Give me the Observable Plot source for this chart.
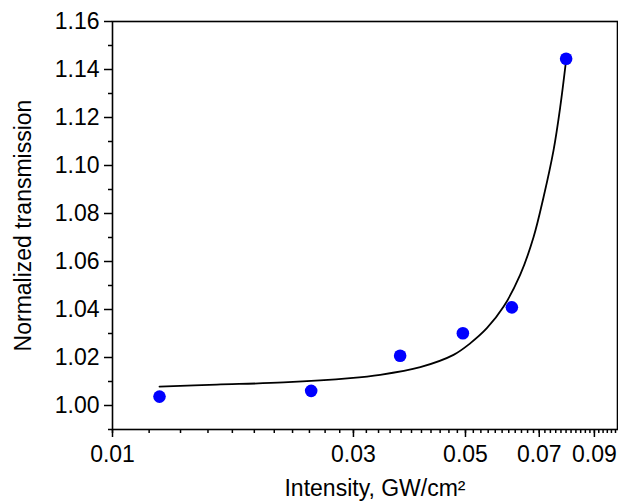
<!DOCTYPE html>
<html>
<head>
<meta charset="utf-8">
<script src="https://cdn.jsdelivr.net/npm/d3@7"></script>
<script src="https://cdn.jsdelivr.net/npm/@observablehq/plot@0.6"></script>
<style>
  html, body { margin: 0; padding: 0; background: #fff; }
</style>
</head>
<body>
<div id="chart"></div>
<script>
const xLabel = "Intensity, GW/cm²";
const yLabel = "Normalized transmission";

// measured points
const intensity    = [0.01239, 0.02474, 0.03712, 0.04941, 0.06178, 0.07912];
const transmission = [1.0037, 1.0061, 1.0207, 1.0301, 1.0409, 1.1445];

// fitted curve
const fitIntensity    = [0.01239, 0.01609, 0.02181, 0.02956, 0.03389, 0.04069, 0.04735, 0.05108, 0.05512, 0.05946, 0.06418, 0.06821, 0.07139, 0.07470, 0.07701, 0.07912];
const fitTransmission = [1.0079, 1.0087, 1.0096, 1.0114, 1.0128, 1.0160, 1.0211, 1.0259, 1.0322, 1.0411, 1.0545, 1.0702, 1.0869, 1.1063, 1.1243, 1.1440];

// ticks
const xMajorTicks = [0.01, 0.03, 0.05, 0.07, 0.09];
const xTickLabels = ["0.01", "0.03", "0.05", "0.07", "0.09"];
const xMinorStep = 0.02 / 11;
const yMajorTicks = [1.00, 1.02, 1.04, 1.06, 1.08, 1.10, 1.12, 1.14, 1.16];
const yTickLabels = ["1.00", "1.02", "1.04", "1.06", "1.08", "1.10", "1.12", "1.14", "1.16"];
const yMinorTicks = [0.99, 1.01, 1.03, 1.05, 1.07, 1.09, 1.11, 1.13, 1.15];

const points = intensity.map((x, i) => ({x, y: transmission[i]}));
const fit = fitIntensity.map((x, i) => ({x, y: fitTransmission[i]}));
const xMinorTicks = d3.range(0, 50).map(k => 0.01 + k * xMinorStep).filter(v => v <= 0.1001);
const xLabelRows = xMajorTicks.map((v, i) => ({v, label: xTickLabels[i]}));
const yLabelRows = yMajorTicks.map((v, i) => ({v, label: yTickLabels[i]}));

const chart = Plot.plot({
  width: 618,
  height: 501,
  marginLeft: 112,
  marginRight: 1,
  marginTop: 21,
  marginBottom: 72,
  style: {fontFamily: "'Liberation Sans', Arial, sans-serif", fontSize: "23px", color: "#000", background: "#fff"},
  x: {type: "log", domain: [0.01, 0.1]},
  y: {domain: [0.99, 1.16]},
  marks: [
    Plot.axisX(xMinorTicks, {tickSize: 4, tickFormat: () => "", label: null, stroke: "#000", strokeWidth: 1.5}),
    Plot.axisX(xMajorTicks, {tickSize: 8, tickFormat: () => "", label: null, stroke: "#000", strokeWidth: 1.5}),
    Plot.text(xLabelRows, {x: "v", text: "label", frameAnchor: "bottom", dy: 16, lineAnchor: "top", fill: "#000"}),
    Plot.axisY(yMinorTicks, {tickSize: 4, tickFormat: () => "", label: null, stroke: "#000", strokeWidth: 1.5}),
    Plot.axisY(yMajorTicks, {tickSize: 8, tickFormat: () => "", label: null, stroke: "#000", strokeWidth: 1.5}),
    Plot.text(yLabelRows, {y: "v", text: "label", frameAnchor: "left", dx: -13, textAnchor: "end", fill: "#000"}),
    Plot.frame({stroke: "#000", strokeWidth: 1.6}),
    Plot.line(fit, {x: "x", y: "y", stroke: "#000", strokeWidth: 1.8, curve: "catmull-rom"}),
    Plot.dot(points, {x: "x", y: "y", r: 6.3, fill: "#0000ff", stroke: "none"}),
    Plot.text([xLabel], {frameAnchor: "bottom", dx: 10, dy: 66, lineAnchor: "bottom", text: d => d, fill: "#000"}),
    Plot.text([yLabel], {frameAnchor: "left", dx: -89, rotate: -90, textAnchor: "middle", text: d => d, fill: "#000"})
  ]
});
document.getElementById("chart").appendChild(chart);
</script>
</body>
</html>
